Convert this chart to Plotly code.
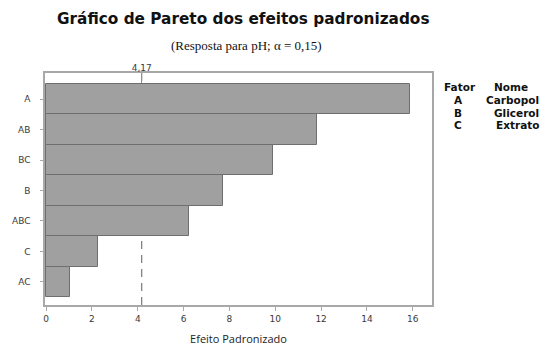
import plotly.graph_objects as go

# Data
termos = ["A", "AB", "BC", "B", "ABC", "C", "AC"]
efeitos = [15.9, 11.83, 9.88, 7.73, 6.23, 2.25, 1.03]
limite = 4.17
limite_txt = "4,17"
x_ticks = [0, 2, 4, 6, 8, 10, 12, 14, 16]
fatores = ["A", "B", "C"]
nomes = ["Carbopol", "Glicerol", "Extrato"]

titulo = "Gráfico de Pareto dos efeitos padronizados"
subtitulo = "(Resposta para pH; α = 0,15)"
x_titulo = "Efeito Padronizado"

L, R, T, B = 45, 432, 73, 305
PW, PH = R - L, B - T

fig = go.Figure()
fig.add_trace(go.Bar(
    x=efeitos, y=termos, orientation="h",
    marker=dict(color="#a0a0a0", line=dict(color="#6e6e6e", width=1)),
    showlegend=False, hoverinfo="x+y",
))
# invisible trace to activate top axis
fig.add_trace(go.Scatter(x=[limite], y=[termos[0]], xaxis="x2", mode="markers",
                         marker=dict(opacity=0), showlegend=False, hoverinfo="skip"))

fig.add_shape(type="line", xref="x", yref="paper", x0=limite, x1=limite, y0=0, y1=1,
              line=dict(color="#7a7a7a", width=1.2, dash="8px,6px"), layer="below")

tick_font = dict(family="DejaVu Sans", size=9, color="#3a3a3a")
fig.update_layout(
    width=545, height=360,
    margin=dict(l=L, r=545 - R, t=T, b=360 - B),
    paper_bgcolor="white", plot_bgcolor="white",
    bargap=0,
    xaxis=dict(range=[-0.05, 16.84], tickvals=x_ticks, ticks="outside", ticklen=4,
               tickcolor="#a8a8a8", tickfont=tick_font, showgrid=False, zeroline=False,
               showline=True, linecolor="#a8a8a8", linewidth=1.5, mirror=False,
               automargin=False,
               title=dict(text=x_titulo, font=dict(family="Open Sans", size=11, color="#222222"),
                          standoff=13)),
    xaxis2=dict(overlaying="x", side="top", range=[-0.05, 16.84], tickvals=[limite],
                ticktext=[limite_txt], ticks="inside", ticklen=10, tickcolor="#909090",
                tickfont=tick_font, showgrid=False, zeroline=False, showline=True,
                linecolor="#a8a8a8", linewidth=1.5, automargin=False,
                ticklabelstandoff=-3),
    yaxis=dict(type="category", categoryorder="array", categoryarray=termos,
               range=[6.76, -0.86], ticks="outside", ticklen=3, tickcolor="#a8a8a8",
               tickfont=tick_font, showgrid=False, zeroline=False, showline=True,
               linecolor="#a8a8a8", linewidth=1.5, mirror=True, ticklabelstandoff=8,
               automargin=False),
)


def px_x(px):
    return (px - L) / PW


def px_y(py):
    return 1 - (py - T) / PH


fig.add_annotation(text="<b>" + titulo + "</b>", xref="paper", yref="paper",
                   x=px_x(243), y=px_y(19), showarrow=False,
                   font=dict(family="DejaVu Sans", size=15.3, color="#111111"),
                   xanchor="center", yanchor="middle")
fig.add_annotation(text=subtitulo, xref="paper", yref="paper",
                   x=px_x(246), y=px_y(46), showarrow=False,
                   font=dict(family="Liberation Serif", size=13, color="#111111"),
                   xanchor="center", yanchor="middle")

leg_font = dict(family="DejaVu Sans", size=10.5, color="#111111")
fig.add_annotation(text="<b>Fator</b>", xref="paper", yref="paper", x=px_x(460), y=px_y(87),
                   showarrow=False, font=leg_font, xanchor="center", yanchor="middle")
fig.add_annotation(text="<b>Nome</b>", xref="paper", yref="paper", x=px_x(511), y=px_y(87),
                   showarrow=False, font=leg_font, xanchor="center", yanchor="middle")
for i, (f, n) in enumerate(zip(fatores, nomes)):
    yy = 100 + i * 12.7
    fig.add_annotation(text="<b>" + f + "</b>", xref="paper", yref="paper", x=px_x(458), y=px_y(yy),
                       showarrow=False, font=leg_font, xanchor="center", yanchor="middle")
    fig.add_annotation(text="<b>" + n + "</b>", xref="paper", yref="paper", x=px_x(541), y=px_y(yy),
                       showarrow=False, font=leg_font, xanchor="right", yanchor="middle")

fig.write_html("out.html", config={"displayModeBar": False},
               post_script="document.body.style.margin='0px';document.body.style.overflow='hidden';")
